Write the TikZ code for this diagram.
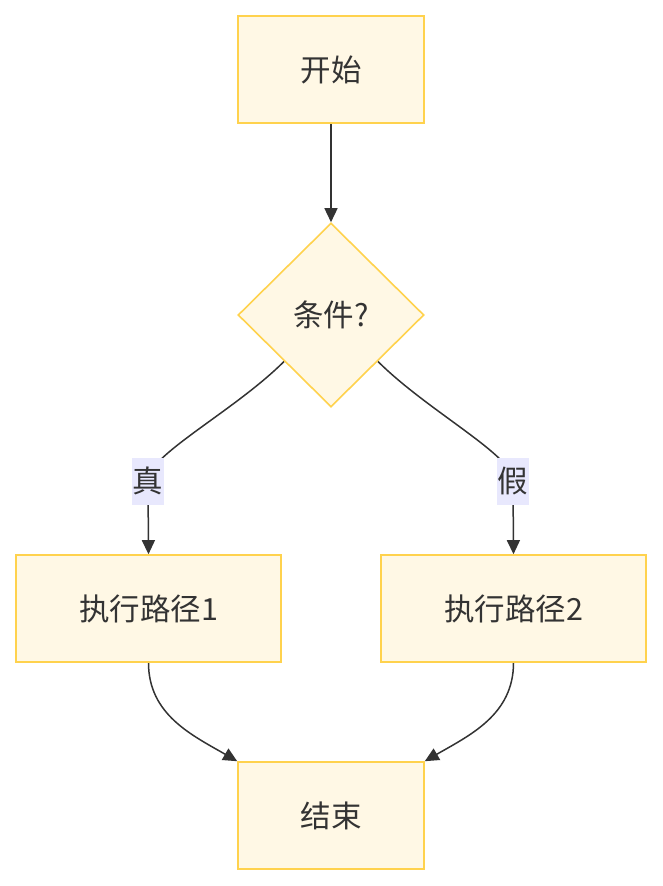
\documentclass[tikz,border=0pt]{standalone}
\usepackage{fontspec}
\setmainfont{Noto Sans CJK SC}
\usetikzlibrary{shapes.geometric,arrows.meta,backgrounds}
\definecolor{boxfill}{HTML}{FFF8E5}
\definecolor{boxline}{HTML}{FFD24D}
\definecolor{lblfill}{HTML}{E8E8FD}
\definecolor{ink}{HTML}{333333}
\begin{document}
\begin{tikzpicture}[x=1pt,y=1pt,
    box/.style={draw=boxline,fill=boxfill,line width=1.6pt,minimum height=107pt,inner sep=0pt,text=ink,font=\fontsize{30.5}{35}\selectfont},
    decision/.style={box,shape=diamond,minimum width=186pt,minimum height=184pt},
    lbl/.style={fill=lblfill,inner sep=1pt,minimum height=47pt,text=ink,font=\fontsize{30.5}{35}\selectfont},
    arrow/.style={draw=ink,line width=1.5pt,-{Triangle[length=14pt,width=13pt]}}]
    \useasboundingbox (0,0) rectangle (662,-886);

    % Nodes
    \node[box,minimum width=186pt] (start) at (331,-69.5) {开始};
    \node[decision] (cond) at (331,-315) {条件?};
    \node[box,minimum width=265pt] (path1) at (148.5,-608.5) {执行路径1};
    \node[box,minimum width=265pt] (path2) at (513.5,-608.5) {执行路径2};
    \node[box,minimum width=186pt] (stop) at (331,-815.5) {结束};

    % Edge labels
    \node[lbl] (yes) at (148,-481) {真};
    \node[lbl] (no) at (513,-481) {假};

    % Edges
    \begin{scope}[on background layer]
      \draw[arrow] (start.south) -- (cond.north);
      \draw[arrow] (cond.south west) to[out=225,in=95,out looseness=1,in looseness=0.35] (yes.center) -- (path1.north);
      \draw[arrow] (cond.south east) to[out=-45,in=85,out looseness=1,in looseness=0.35] (no.center) -- (path2.north);
      \draw[arrow] (path1.south) to[out=270,in=150] (stop.north west);
      \draw[arrow] (path2.south) to[out=270,in=30] (stop.north east);
    \end{scope}
  \end{tikzpicture}
\end{document}
